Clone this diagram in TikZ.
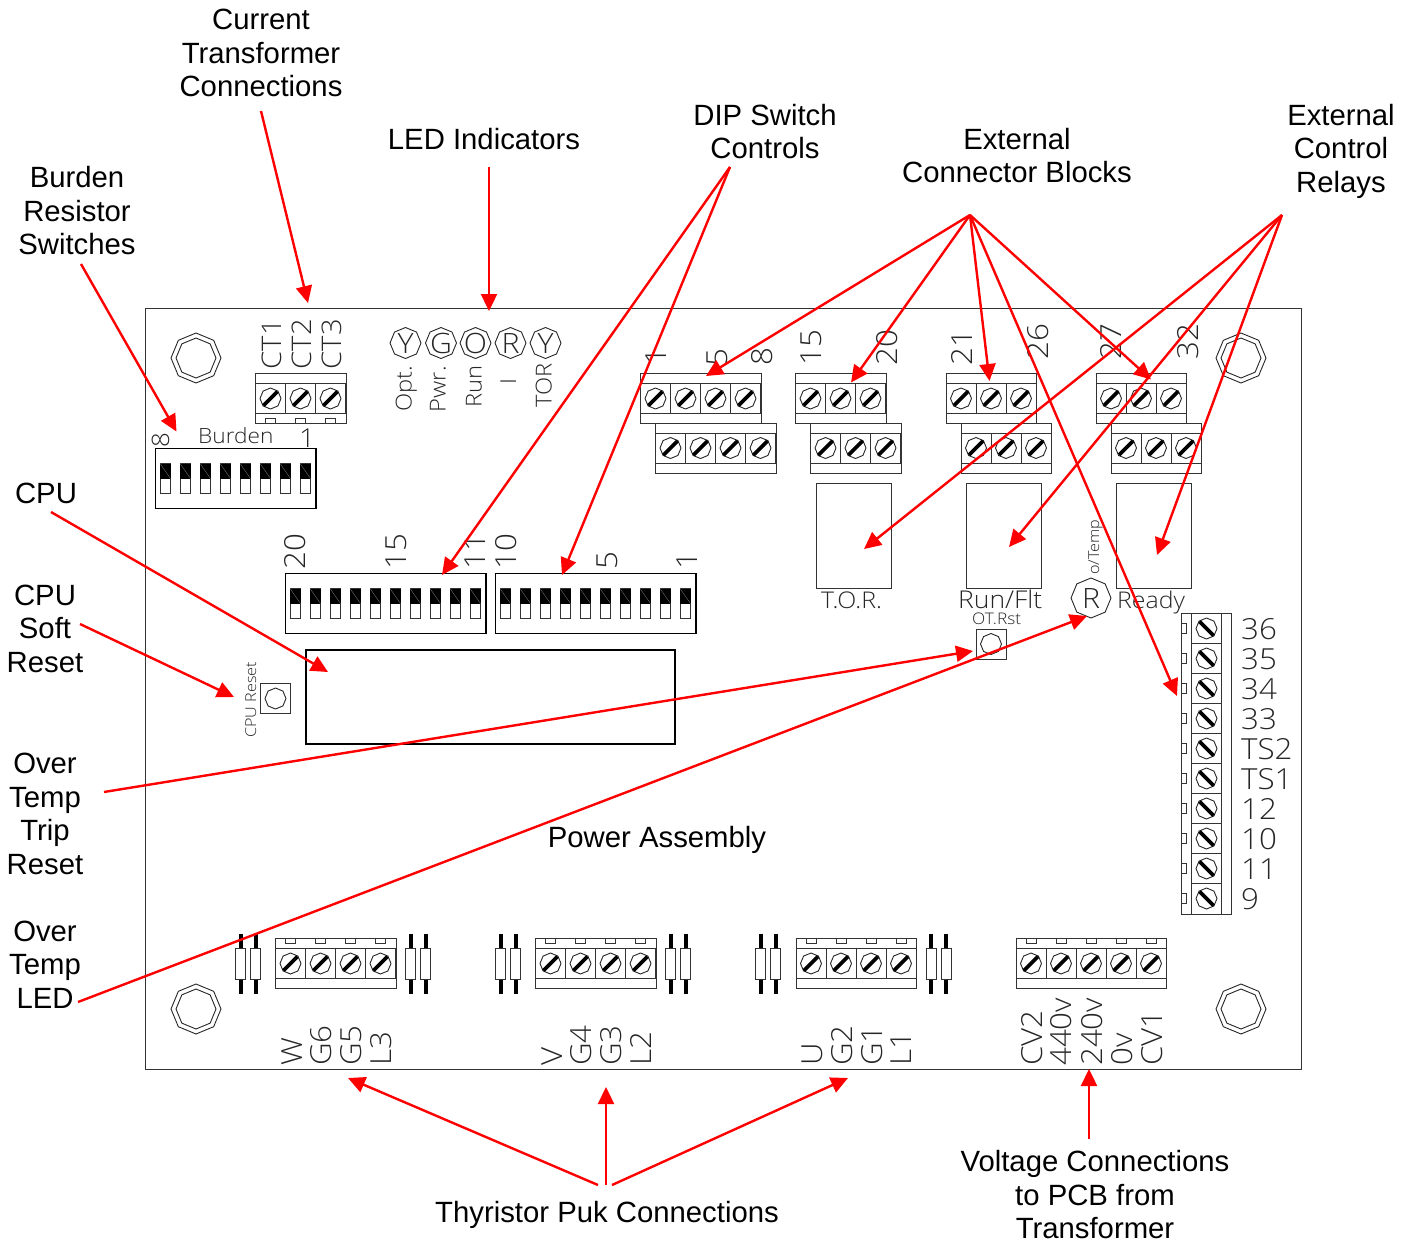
\documentclass[tikz,border=0pt]{standalone}
\usepackage{fontspec}
\setmainfont{Liberation Sans}
\newfontfamily\cadfont[FakeStretch=1.08]{Open Sans Light}
\usepackage{tikz}
\usetikzlibrary{arrows.meta}

\tikzset{
    cadline/.style={line width=1pt, black!80},
    redarrow/.style={line width=2.4pt, red, -{Triangle[length=17pt,width=16pt]}},
    callout/.style={font=\fontsize{29.3}{33.5}\selectfont, align=center, inner sep=0pt},
    cadtext/.style={font=\cadfont\fontsize{#1}{#1}\selectfont, text=black!85, inner sep=0pt, anchor=base west},
    cadtext/.default=29,
    cadup/.style={cadtext=#1, rotate=90},
    cadup/.default=29,
    pics/octa/.style={code={
        \draw[line width=.9pt, black!85] (90:#1) \foreach \a in {135,180,...,405} {-- (\a:#1)} -- cycle;
    }},
    pics/screw/.style={code={
        \pic {octa=10.5};
        \draw[line width=3.7pt] (-7,{7*#1}) -- (7,{-7*#1});
    }},
    pics/termblock/.style={code={
        \draw[cadline] (0,0) rectangle ({30*#1+.5},50);
        \draw[cadline] (0,10) -- ({30*#1+.5},10) (0,40) -- ({30*#1+.5},40);
        \foreach \i in {1,...,#1} {
            \draw[cadline] ({30*\i},10) -- ({30*\i},40);
            \pic at ({30*\i-15},25) {screw=1};
        }
    }},
    pics/termtabs/.style 2 args={code={
        \foreach \i in {1,...,#1}
            \draw[cadline] ({30*\i-20},#2) rectangle ({30*\i-10},{#2+5});
    }},
    pics/dipswitch/.style={code={
        \draw[line width=1.2pt] (0,0) rectangle ({20*#1+.5},60);
        \foreach \i in {1,...,#1} {
            \draw[cadline] ({20*\i-15.5},15) rectangle ({20*\i-5},45);
            \fill[black] ({20*\i-15.5},15) rectangle ({20*\i-5},30);
            \draw[black!50, line width=.3pt] ({20*\i-15.5},15) -- ({20*\i-5},30);
        }
    }},
    pics/gatepin/.style={code={
        \draw[line width=4pt] (0,933.5) -- (0,994);
        \draw[cadline, fill=white] (-5,948.5) rectangle (5,979);
    }},
}

\begin{document}
\begin{tikzpicture}[x=1pt, y=-1pt]
    \useasboundingbox (0,0) rectangle (1414,1243);

    \draw[cadline] (145.5,308) rectangle (1301.5,1069);
    \foreach \x/\y in {196/358, 1241/358, 196/1009, 1241/1009} {
        \pic at (\x,\y) {octa=25};
        \pic at (\x,\y) {octa=20};
    }

    \pic at (255.5,373.5) {termblock=3};
    \pic at (255.5,373.5) {termtabs={3}{45}};
    \foreach \x/\y/\n in {640.5/373.5/4, 795.5/373.5/3, 946/373.5/3, 1096/373.5/3,
                          655.5/423/4, 810.5/423/3, 961/423/3, 1111/423/3}
        \pic at (\x,\y) {termblock=\n};
    \foreach \x/\n in {275.5/4, 535.5/4, 796/4, 1016/5} {
        \pic at (\x,938.5) {termblock=\n};
        \pic at (\x,938.5) {termtabs={\n}{0}};
    }
    \foreach \x in {240.5, 255.5, 410.5, 425.5, 500.5, 515.5, 670.5, 685.5, 760.5, 775.5, 931, 946}
        \pic at (\x,0) {gatepin};

    \pic at (155.5,448.5) {dipswitch=8};
    \pic at (285.5,573.5) {dipswitch=10};
    \pic at (495.5,573.5) {dipswitch=10};

    \foreach \x in {816, 966, 1116}
        \draw[cadline] (\x,483.5) rectangle ({\x+75},588);
    \draw[line width=2pt] (306,650) rectangle (674.5,744);

    \draw[cadline] (1181.5,613.5) rectangle (1231.5,914);
    \draw[cadline] (1191.5,613.5) -- (1191.5,914) (1221.5,613.5) -- (1221.5,914);
    \foreach \t [count=\i from 0] in {36,35,34,33,TS2,TS1,12,10,11,9} {
        \draw[cadline] (1191.5,{613.5+30*\i}) -- (1221.5,{613.5+30*\i});
        \draw[cadline] (1181.5,{623.5+30*\i}) rectangle (1186.5,{633.5+30*\i});
        \pic at (1206.5,{628.5+30*\i}) {screw=-1};
        \node[cadtext] (term\i) at (1241,{639+30*\i}) {\t};
    }

    \foreach \x/\t [count=\i] in {405.5/Y, 441/G, 475.5/O, 510.5/R, 545.5/Y} {
        \pic at (\x,343) {octa=15.5};
        \node[cadtext=28, anchor=center] (led\i) at (\x,343) {\t};
    }
    \foreach \x/\y/\t [count=\i] in {411.5/411.5/Opt., 445.5/412.5/Pwr., 481.5/407.5/Run, 516/384.5/I, 551.5/408/TOR}
        \node[cadup=22] (ledname\i) at (\x,\y) {\t};

    \foreach \x/\y/\t [count=\i] in {281.5/369.5/CT1, 311.5/369.5/CT2, 341.5/369.5/CT3}
        \node[cadup=27] (ctpin\i) at (\x,\y) {\t};

    \foreach \x/\y/\t [count=\i] in {305.5/569.5/20, 406.5/569.5/15, 485.5/569.5/11, 516.5/569.5/10, 617/569.5/5, 697/569.5/1,
            666/365.5/1, 727/366.5/5, 772/365.5/8, 821.5/365.5/15, 897.5/365.5/20, 972.5/365.5/21,
            1048/360/26, 1121.5/360/27, 1198/360/32,
            302/1066/W, 331/1066/G6, 361.5/1066/G5, 391.5/1066/L3,
            562/1066/V, 591/1066/G4, 621.5/1066/G3, 651.5/1066/L2,
            822/1066/U, 852/1066/G2, 882/1066/G1, 911.5/1066/L1,
            1042.5/1066/CV2, 1071.5/1066/440v, 1102/1066/240v, 1132.5/1066/0v, 1162/1066/CV1}
        \node[cadup] (pin\i) at (\x,\y) {\t};

    \node[cadtext=21] (burden) at (198,443.5) {Burden};
    \node[cadup=24] (burdeneight) at (169,448) {8};
    \node[cadtext=26] (burdenone) at (299,447) {1};
    \node[cadtext=23] (torname) at (821,608) {T.O.R.};
    \node[cadtext=24.5] (runname) at (958,608) {Run/Flt};
    \node[cadtext=23] (readyname) at (1117,608) {Ready};

    \draw[cadline] (976,629) rectangle (1006,659);
    \pic at (991,644) {octa=10.5};
    \node[cadtext=16] (otrst) at (972,624) {OT.Rst};
    \pic at (1091,598) {octa=20};
    \node[cadtext=28, anchor=center] (otled) at (1091,598) {R};
    \node[cadup=15] (ottemp) at (1099,575) {o/Temp};
    \draw[cadline] (260.5,683.5) rectangle (290.5,713.5);
    \pic at (275.5,698.5) {octa=10.5};
    \node[cadup=15] (cpureset) at (256,738) {CPU Reset};

    \node[callout] (ctlabel) at (261,53) {Current\\Transformer\\Connections};
    \node[callout] (ledlabel) at (484,139) {LED Indicators};
    \node[callout] (diplabel) at (765,131.5) {DIP Switch\\Controls};
    \node[callout] (extlabel) at (1017,155.5) {External\\Connector Blocks};
    \node[callout] (rellabel) at (1341,151) {External\\Control\\Relays};
    \node[callout] (burlabel) at (77,211) {Burden\\Resistor\\Switches};
    \node[callout] (cpulabel) at (46,493) {CPU};
    \node[callout] (softlabel) at (45,628.5) {CPU\\Soft\\Reset};
    \node[callout] (triplabel) at (45,814) {Over\\Temp\\Trip\\Reset};
    \node[callout] (otlabel) at (45,964.5) {Over\\Temp\\LED};
    \node[callout] (powlabel) at (657,840) {Power Assembly};
    \node[callout] (thylabel) at (607,1215) {Thyristor Puk Connections};
    \node[callout] (vollabel) at (1095,1195) {Voltage Connections\\to PCB from\\Transformer};

    \coordinate (ctfrom) at (261,111);
    \coordinate (ctto) at (308,303);
    \coordinate (ledfrom) at (489,167);
    \coordinate (ledto) at (489,311);
    \coordinate (burfrom) at (81,264);
    \coordinate (burto) at (176.5,431.5);
    \coordinate (cpufrom) at (51,512);
    \coordinate (cputo) at (328,672);
    \coordinate (softfrom) at (80,624);
    \coordinate (softto) at (234,697);
    \coordinate (tripfrom) at (104,792);
    \coordinate (tripto) at (973,651);
    \coordinate (otfrom) at (78,1002);
    \coordinate (otto) at (1087,616);
    \coordinate (volfrom) at (1089,1139);
    \coordinate (volto) at (1089,1069);
    \coordinate (dipfrom) at (730,167);
    \coordinate (dipa) at (442,575);
    \coordinate (dipb) at (562,575);
    \coordinate (extfrom) at (970,215);
    \coordinate (exta) at (706,376);
    \coordinate (extb) at (851,382.5);
    \coordinate (extc) at (989.5,381);
    \coordinate (extd) at (1151,379.5);
    \coordinate (exte) at (1177,696);
    \coordinate (relfrom) at (1282,215);
    \coordinate (rela) at (864,549);
    \coordinate (relb) at (1009,547);
    \coordinate (relc) at (1157,555);
    \coordinate (thya) at (598,1185);
    \coordinate (thyb) at (606,1185);
    \coordinate (thyc) at (612,1185);
    \coordinate (thyato) at (348,1078);
    \coordinate (thybto) at (606,1087);
    \coordinate (thycto) at (848,1078);

    \foreach \a/\b in {ctfrom/ctto, ledfrom/ledto, burfrom/burto, cpufrom/cputo, softfrom/softto,
            tripfrom/tripto, otfrom/otto, volfrom/volto, dipfrom/dipa, dipfrom/dipb,
            extfrom/exta, extfrom/extb, extfrom/extc, extfrom/extd, extfrom/exte,
            relfrom/rela, relfrom/relb, relfrom/relc, thya/thyato, thyb/thybto, thyc/thycto}
        \draw[redarrow] (\a) -- (\b);
\end{tikzpicture}
\end{document}
